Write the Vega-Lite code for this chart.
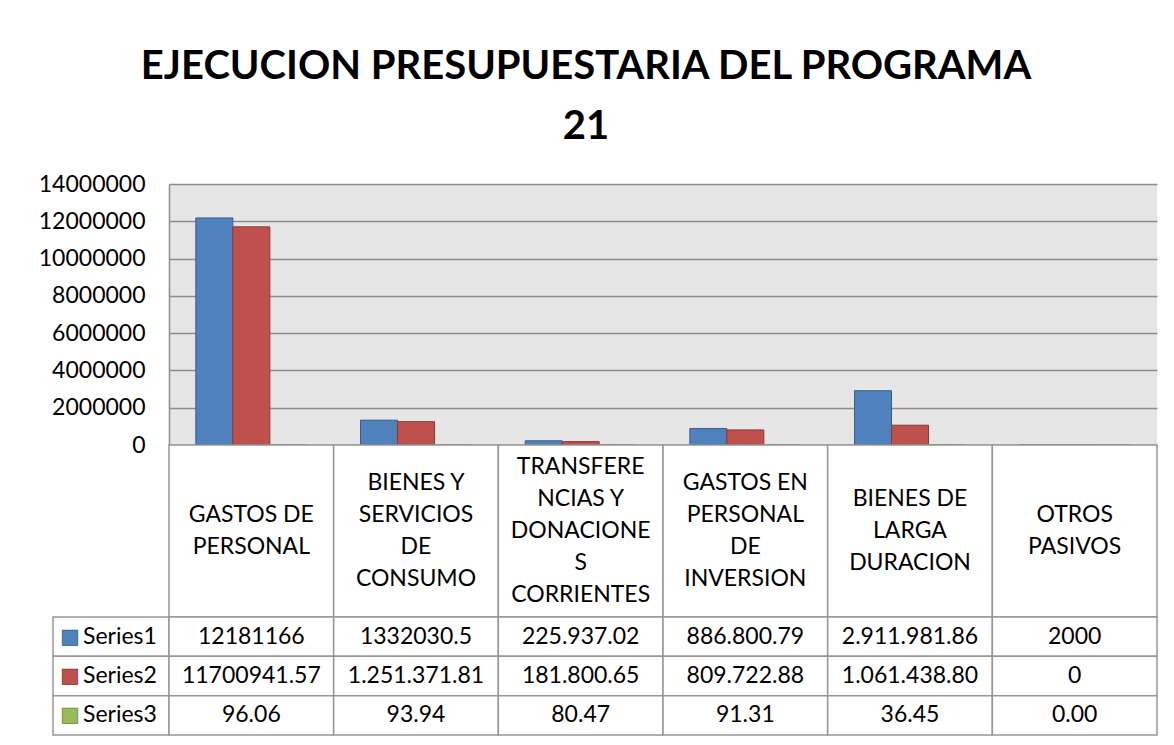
{
  "$schema": "https://vega.github.io/schema/vega-lite/v6.json",
  "autosize": {"type": "pad"},
  "padding": {"left": 38, "top": 47, "right": 16, "bottom": 10},
  "background": "white",
  "title": {
    "text": ["EJECUCION PRESUPUESTARIA DEL PROGRAMA", "21"],
    "font": "Lato",
    "fontSize": 40,
    "fontWeight": "bold",
    "lineHeight": 60,
    "color": "black",
    "anchor": "middle",
    "frame": "bounds",
    "offset": 26,
    "dx": -12
  },
  "config": {
    "view": {"stroke": null},
    "font": "Lato",
    "text": {"font": "Lato", "fontSize": 23, "color": "black"}
  },
  "datasets": {
    "vals": [
      {"cat": "GASTOS DE PERSONAL", "series": "Series1", "value": 12181166, "label": "12181166"},
      {"cat": "BIENES Y SERVICIOS DE CONSUMO", "series": "Series1", "value": 1332030.5, "label": "1332030.5"},
      {"cat": "TRANSFERENCIAS Y DONACIONES CORRIENTES", "series": "Series1", "value": 225937.02, "label": "225.937.02"},
      {"cat": "GASTOS EN PERSONAL DE INVERSION", "series": "Series1", "value": 886800.79, "label": "886.800.79"},
      {"cat": "BIENES DE LARGA DURACION", "series": "Series1", "value": 2911981.86, "label": "2.911.981.86"},
      {"cat": "OTROS PASIVOS", "series": "Series1", "value": 2000, "label": "2000"},
      {"cat": "GASTOS DE PERSONAL", "series": "Series2", "value": 11700941.57, "label": "11700941.57"},
      {"cat": "BIENES Y SERVICIOS DE CONSUMO", "series": "Series2", "value": 1251371.81, "label": "1.251.371.81"},
      {"cat": "TRANSFERENCIAS Y DONACIONES CORRIENTES", "series": "Series2", "value": 181800.65, "label": "181.800.65"},
      {"cat": "GASTOS EN PERSONAL DE INVERSION", "series": "Series2", "value": 809722.88, "label": "809.722.88"},
      {"cat": "BIENES DE LARGA DURACION", "series": "Series2", "value": 1061438.8, "label": "1.061.438.80"},
      {"cat": "OTROS PASIVOS", "series": "Series2", "value": 0, "label": "0"},
      {"cat": "GASTOS DE PERSONAL", "series": "Series3", "value": 96.06, "label": "96.06"},
      {"cat": "BIENES Y SERVICIOS DE CONSUMO", "series": "Series3", "value": 93.94, "label": "93.94"},
      {"cat": "TRANSFERENCIAS Y DONACIONES CORRIENTES", "series": "Series3", "value": 80.47, "label": "80.47"},
      {"cat": "GASTOS EN PERSONAL DE INVERSION", "series": "Series3", "value": 91.31, "label": "91.31"},
      {"cat": "BIENES DE LARGA DURACION", "series": "Series3", "value": 36.45, "label": "36.45"},
      {"cat": "OTROS PASIVOS", "series": "Series3", "value": 0, "label": "0.00"}
    ],
    "cats": [
      {"cat": "GASTOS DE PERSONAL", "header": "GASTOS DE\nPERSONAL", "lines": 2},
      {"cat": "BIENES Y SERVICIOS DE CONSUMO", "header": "BIENES Y\nSERVICIOS\nDE\nCONSUMO", "lines": 4},
      {"cat": "TRANSFERENCIAS Y DONACIONES CORRIENTES", "header": "TRANSFERE\nNCIAS Y\nDONACIONE\nS\nCORRIENTES", "lines": 5},
      {"cat": "GASTOS EN PERSONAL DE INVERSION", "header": "GASTOS EN\nPERSONAL\nDE\nINVERSION", "lines": 4},
      {"cat": "BIENES DE LARGA DURACION", "header": "BIENES DE\nLARGA\nDURACION", "lines": 3},
      {"cat": "OTROS PASIVOS", "header": "OTROS\nPASIVOS", "lines": 2}
    ],
    "series": [
      {"series": "Series1", "key": "■"},
      {"series": "Series2", "key": "■"},
      {"series": "Series3", "key": "■"}
    ],
    "empty": []
  },
  "columns": 2,
  "spacing": 0,
  "bounds": "flush",
  "concat": [
    {
      "width": 116, "height": 261,
      "data": {"name": "empty"},
      "mark": "point",
      "encoding": {}
    },
    {
      "width": 988, "height": 261,
      "data": {"name": "vals"},
      "view": {"fill": "#e6e6e6", "stroke": null},
      "mark": {"type": "bar", "strokeWidth": 1},
      "encoding": {
        "x": {
          "field": "cat", "type": "nominal",
          "sort": ["GASTOS DE PERSONAL", "BIENES Y SERVICIOS DE CONSUMO", "TRANSFERENCIAS Y DONACIONES CORRIENTES", "GASTOS EN PERSONAL DE INVERSION", "BIENES DE LARGA DURACION", "OTROS PASIVOS"],
          "scale": {"paddingInner": 0.326, "paddingOuter": 0.163},
          "axis": null
        },
        "xOffset": {"field": "series", "type": "nominal", "scale": {"paddingInner": 0, "paddingOuter": 0}},
        "y": {
          "field": "value", "type": "quantitative",
          "scale": {"domain": [0, 14000000], "nice": false},
          "axis": {
            "values": [0, 2000000, 4000000, 6000000, 8000000, 10000000, 12000000, 14000000],
            "format": "d",
            "title": null,
            "labelFont": "Lato",
            "labelFontSize": 23,
            "labelColor": "black",
            "labelPadding": 24,
            "ticks": false,
            "grid": true,
            "gridColor": "#8c8c8c",
            "gridWidth": 1.5,
            "domainColor": "#8c8c8c",
            "domainWidth": 1.5
          }
        },
        "color": {
          "field": "series", "type": "nominal",
          "scale": {"domain": ["Series1", "Series2", "Series3"], "range": ["#4f81bd", "#c0504d", "#9bbb59"]},
          "legend": null
        },
        "stroke": {
          "field": "series", "type": "nominal",
          "scale": {"domain": ["Series1", "Series2", "Series3"], "range": ["#385d8a", "#8c3836", "#71893f"]},
          "legend": null
        }
      }
    },
    {
      "width": 116, "height": 172,
      "data": {"name": "empty"},
      "mark": "point",
      "encoding": {}
    },
    {
      "width": 988, "height": 172,
      "data": {"name": "cats"},
      "encoding": {
        "x": {
          "field": "cat", "type": "nominal",
          "sort": ["GASTOS DE PERSONAL", "BIENES Y SERVICIOS DE CONSUMO", "TRANSFERENCIAS Y DONACIONES CORRIENTES", "GASTOS EN PERSONAL DE INVERSION", "BIENES DE LARGA DURACION", "OTROS PASIVOS"],
          "scale": {"paddingInner": 0, "paddingOuter": 0},
          "axis": null
        }
      },
      "layer": [
        {"mark": {"type": "rect", "fill": "white", "stroke": "#969696", "strokeWidth": 1.5}},
        {"mark": {"type": "text", "lineBreak": "\n", "lineHeight": 32, "fontSize": 23, "align": "center", "baseline": "middle"},
         "encoding": {
           "text": {"field": "header"},
           "y": {"field": "lines", "type": "quantitative", "scale": {"domain": [-4.375, 6.375], "nice": false, "zero": false}, "axis": null}
         }}
      ]
    },
    {
      "width": 116, "height": 118,
      "data": {"name": "series"},
      "encoding": {
        "y": {"field": "series", "type": "nominal", "scale": {"paddingInner": 0, "paddingOuter": 0}, "axis": null}
      },
      "layer": [
        {"mark": {"type": "rect", "fill": "white", "stroke": "#969696", "strokeWidth": 1.5}},
        {"mark": {"type": "text", "font": "DejaVu Sans", "fontSize": 20, "align": "center", "baseline": "middle", "dx": -41, "strokeWidth": 0.8},
         "encoding": {
           "text": {"field": "key"},
           "color": {"field": "series", "type": "nominal", "scale": {"domain": ["Series1", "Series2", "Series3"], "range": ["#4f81bd", "#c0504d", "#9bbb59"]}, "legend": null},
           "stroke": {"field": "series", "type": "nominal", "scale": {"domain": ["Series1", "Series2", "Series3"], "range": ["#385d8a", "#8c3836", "#71893f"]}, "legend": null}
         }},
        {"mark": {"type": "text", "align": "left", "baseline": "middle", "dx": -28, "fontSize": 23},
         "encoding": {"text": {"field": "series"}}}
      ]
    },
    {
      "width": 988, "height": 118,
      "data": {"name": "vals"},
      "encoding": {
        "x": {
          "field": "cat", "type": "nominal",
          "sort": ["GASTOS DE PERSONAL", "BIENES Y SERVICIOS DE CONSUMO", "TRANSFERENCIAS Y DONACIONES CORRIENTES", "GASTOS EN PERSONAL DE INVERSION", "BIENES DE LARGA DURACION", "OTROS PASIVOS"],
          "scale": {"paddingInner": 0, "paddingOuter": 0},
          "axis": null
        },
        "y": {"field": "series", "type": "nominal", "scale": {"paddingInner": 0, "paddingOuter": 0}, "axis": null}
      },
      "layer": [
        {"mark": {"type": "rect", "fill": "white", "stroke": "#969696", "strokeWidth": 1.5}},
        {"mark": {"type": "text", "align": "center", "baseline": "middle", "fontSize": 23},
         "encoding": {"text": {"field": "label"}}}
      ]
    }
  ]
}
